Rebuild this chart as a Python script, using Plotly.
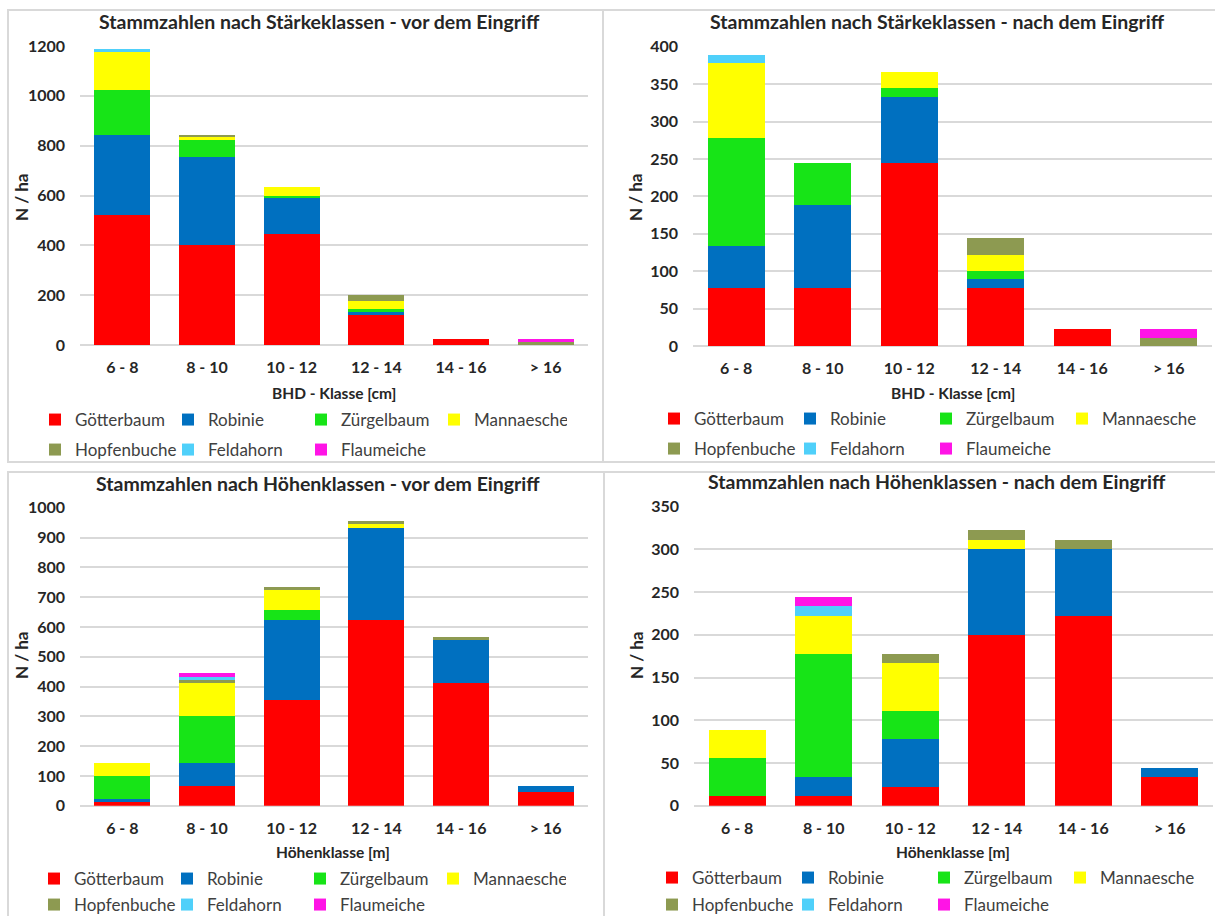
import plotly.graph_objects as go

W, H = 1215, 916

# Stammzahlen je Hektar, nach Baumart und Klasse
klassen = ["6 - 8", "8 - 10", "10 - 12", "12 - 14", "14 - 16", "> 16"]
arten = ["Götterbaum", "Robinie", "Zürgelbaum", "Mannaesche",
         "Hopfenbuche", "Feldahorn", "Flaumeiche"]
farben = ["#FF0000", "#0070C0", "#17E417", "#FFFF00",
          "#8D9A51", "#4FD0FA", "#FF14E6"]

# Stärkeklassen (BHD) - vor dem Eingriff
bhd_vor_goetterbaum = [522.2, 400.0, 444.4, 122.2, 22.2, 0]
bhd_vor_robinie = [322.2, 355.6, 144.4, 11.1, 0, 0]
bhd_vor_zuergelbaum = [177.8, 66.7, 11.1, 11.1, 0, 0]
bhd_vor_mannaesche = [155.6, 11.1, 33.3, 33.3, 0, 0]
bhd_vor_hopfenbuche = [0, 11.1, 0, 22.2, 0, 11.1]
bhd_vor_feldahorn = [11.1, 0, 0, 0, 0, 0]
bhd_vor_flaumeiche = [0, 0, 0, 0, 0, 11.1]

# Stärkeklassen (BHD) - nach dem Eingriff
bhd_nach_goetterbaum = [77.8, 77.8, 244.4, 77.8, 22.2, 0]
bhd_nach_robinie = [55.6, 111.1, 88.9, 11.1, 0, 0]
bhd_nach_zuergelbaum = [144.4, 55.6, 11.1, 11.1, 0, 0]
bhd_nach_mannaesche = [100.0, 0, 22.2, 22.2, 0, 0]
bhd_nach_hopfenbuche = [0, 0, 0, 22.2, 0, 11.1]
bhd_nach_feldahorn = [11.1, 0, 0, 0, 0, 0]
bhd_nach_flaumeiche = [0, 0, 0, 0, 0, 11.1]

# Höhenklassen - vor dem Eingriff
hoehe_vor_goetterbaum = [11.1, 66.7, 355.6, 622.2, 411.1, 44.4]
hoehe_vor_robinie = [11.1, 77.8, 266.7, 311.1, 144.4, 22.2]
hoehe_vor_zuergelbaum = [77.8, 155.6, 33.3, 0, 0, 0]
hoehe_vor_mannaesche = [44.4, 111.1, 66.7, 11.1, 0, 0]
hoehe_vor_hopfenbuche = [0, 11.1, 11.1, 11.1, 11.1, 0]
hoehe_vor_feldahorn = [0, 11.1, 0, 0, 0, 0]
hoehe_vor_flaumeiche = [0, 11.1, 0, 0, 0, 0]

# Höhenklassen - nach dem Eingriff
hoehe_nach_goetterbaum = [11.1, 11.1, 22.2, 200.0, 222.2, 33.3]
hoehe_nach_robinie = [0, 22.2, 55.6, 100.0, 77.8, 11.1]
hoehe_nach_zuergelbaum = [44.4, 144.4, 33.3, 0, 0, 0]
hoehe_nach_mannaesche = [33.3, 44.4, 55.6, 11.1, 0, 0]
hoehe_nach_hopfenbuche = [0, 0, 11.1, 11.1, 11.1, 0]
hoehe_nach_feldahorn = [0, 11.1, 0, 0, 0, 0]
hoehe_nach_flaumeiche = [0, 11.1, 0, 0, 0, 0]

titel = ["Stammzahlen nach Stärkeklassen - vor dem Eingriff",
         "Stammzahlen nach Stärkeklassen - nach dem Eingriff",
         "Stammzahlen nach Höhenklassen - vor dem Eingriff",
         "Stammzahlen nach Höhenklassen - nach dem Eingriff"]
x_titel = ["BHD - Klasse [cm]", "BHD - Klasse [cm]",
           "Höhenklasse [m]", "Höhenklasse [m]"]
y_titel = "N / ha"

daten = [
    [bhd_vor_goetterbaum, bhd_vor_robinie, bhd_vor_zuergelbaum, bhd_vor_mannaesche,
     bhd_vor_hopfenbuche, bhd_vor_feldahorn, bhd_vor_flaumeiche],
    [bhd_nach_goetterbaum, bhd_nach_robinie, bhd_nach_zuergelbaum, bhd_nach_mannaesche,
     bhd_nach_hopfenbuche, bhd_nach_feldahorn, bhd_nach_flaumeiche],
    [hoehe_vor_goetterbaum, hoehe_vor_robinie, hoehe_vor_zuergelbaum, hoehe_vor_mannaesche,
     hoehe_vor_hopfenbuche, hoehe_vor_feldahorn, hoehe_vor_flaumeiche],
    [hoehe_nach_goetterbaum, hoehe_nach_robinie, hoehe_nach_zuergelbaum, hoehe_nach_mannaesche,
     hoehe_nach_hopfenbuche, hoehe_nach_feldahorn, hoehe_nach_flaumeiche],
]
y_bereich = [(0, 1200, 200), (0, 400, 50), (0, 1000, 100), (0, 350, 50)]


def px(x):
    return x / W


def py(y):
    return 1 - y / H


# pixel geometry of each panel
panels = [
    dict(plot=(80, 588, 46, 345), box=(8, 603, 10, 462), title=(319, 21),
         ytitle=(21, 197), xtitle=(334, 393), leg=(35, 420, 450), step=88),
    dict(plot=(693, 1212, 46.7, 346), box=(603, 1218, 10, 462), title=(937, 21),
         ytitle=(635, 197), xtitle=(953, 393), leg=(654, 419, 449), step=91),
    dict(plot=(80, 588, 507.7, 805.7), box=(8, 604, 472, 920), title=(318, 483),
         ytitle=(21, 655), xtitle=(333, 852), leg=(34, 879, 905), step=88),
    dict(plot=(694, 1213, 506.7, 805.7), box=(604, 1218, 472, 920), title=(937, 482),
         ytitle=(636, 655), xtitle=(953, 852), leg=(652, 878, 905), step=91),
]

FONT = "Lato"
TXT = "#262626"
GRID = "#D9D9D9"

fig = go.Figure()
layout = dict(
    width=W, height=H, margin=dict(l=0, r=0, t=0, b=0, autoexpand=False),
    paper_bgcolor="white", plot_bgcolor="white",
    barmode="stack", bargap=0.34,
    font=dict(family=FONT, color=TXT),
    annotations=[], shapes=[],
)

for i, (p, werte) in enumerate(zip(panels, daten)):
    n = "" if i == 0 else str(i + 1)
    xa, ya = "x" + n, "y" + n
    leg_a = "legend" + ("" if i == 0 else str(2 * i + 1))
    leg_b = "legend" + str(2 * i + 2)
    for k, (art, farbe, y) in enumerate(zip(arten, farben, werte)):
        fig.add_trace(go.Bar(
            x=klassen, y=y, name=art, marker=dict(color=farbe, line=dict(width=0)),
            xaxis=xa, yaxis=ya, legend=leg_a if k < 4 else leg_b,
            showlegend=True,
        ))
    x0, x1, y0, y1 = p["plot"]
    lo, hi, dt = y_bereich[i]
    layout["xaxis" + n] = dict(
        domain=[px(x0), px(x1)], anchor=ya, showgrid=False, showline=False,
        ticks="", ticklabelstandoff=11,
        tickfont=dict(family=FONT, size=16, color=TXT, weight="bold"),
    )
    layout["yaxis" + n] = dict(
        domain=[py(y1), py(y0)], anchor=xa, range=[lo, hi], dtick=dt,
        showgrid=True, gridcolor=GRID, gridwidth=1.5, zeroline=True,
        zerolinecolor=GRID, zerolinewidth=1.5, showline=False, ticks="",
        ticklabelstandoff=14,
        tickfont=dict(family=FONT, size=16, color=TXT, weight="bold"),
    )
    lx, ly1, ly2 = p["leg"]
    for name, ly in ((leg_a, ly1), (leg_b, ly2)):
        layout[name] = dict(
            x=px(lx), y=py(ly), xanchor="left", yanchor="middle",
            orientation="h", entrywidth=p["step"], entrywidthmode="pixels",
            traceorder="normal",
            font=dict(family=FONT, size=17, color="#404040"),
            bgcolor="rgba(0,0,0,0)", itemclick=False, itemdoubleclick=False,
            tracegroupgap=0,
        )
    bx0, bx1, by0, by1 = p["box"]
    layout["shapes"].append(dict(
        type="rect", xref="paper", yref="paper",
        x0=px(bx0), x1=px(bx1), y0=py(by1), y1=py(by0),
        line=dict(color=GRID, width=2), layer="below",
    ))
    tx, ty = p["title"]
    layout["annotations"].append(dict(
        text="<b>" + titel[i] + "</b>", x=px(tx), y=py(ty), xref="paper", yref="paper",
        showarrow=False, xanchor="center", yanchor="middle",
        font=dict(family=FONT, size=19.5, color=TXT),
    ))
    ax, ay = p["xtitle"]
    layout["annotations"].append(dict(
        text="<b>" + x_titel[i] + "</b>", x=px(ax), y=py(ay), xref="paper", yref="paper",
        showarrow=False, xanchor="center", yanchor="middle",
        font=dict(family=FONT, size=15.5, color=TXT),
    ))
    yx, yy = p["ytitle"]
    layout["annotations"].append(dict(
        text="<b>" + y_titel + "</b>", x=px(yx), y=py(yy), xref="paper", yref="paper",
        showarrow=False, xanchor="center", yanchor="middle", textangle=-90,
        font=dict(family=FONT, size=17, color=TXT),
    ))

fig.update_layout(**layout)
fig.write_html("out.html")
